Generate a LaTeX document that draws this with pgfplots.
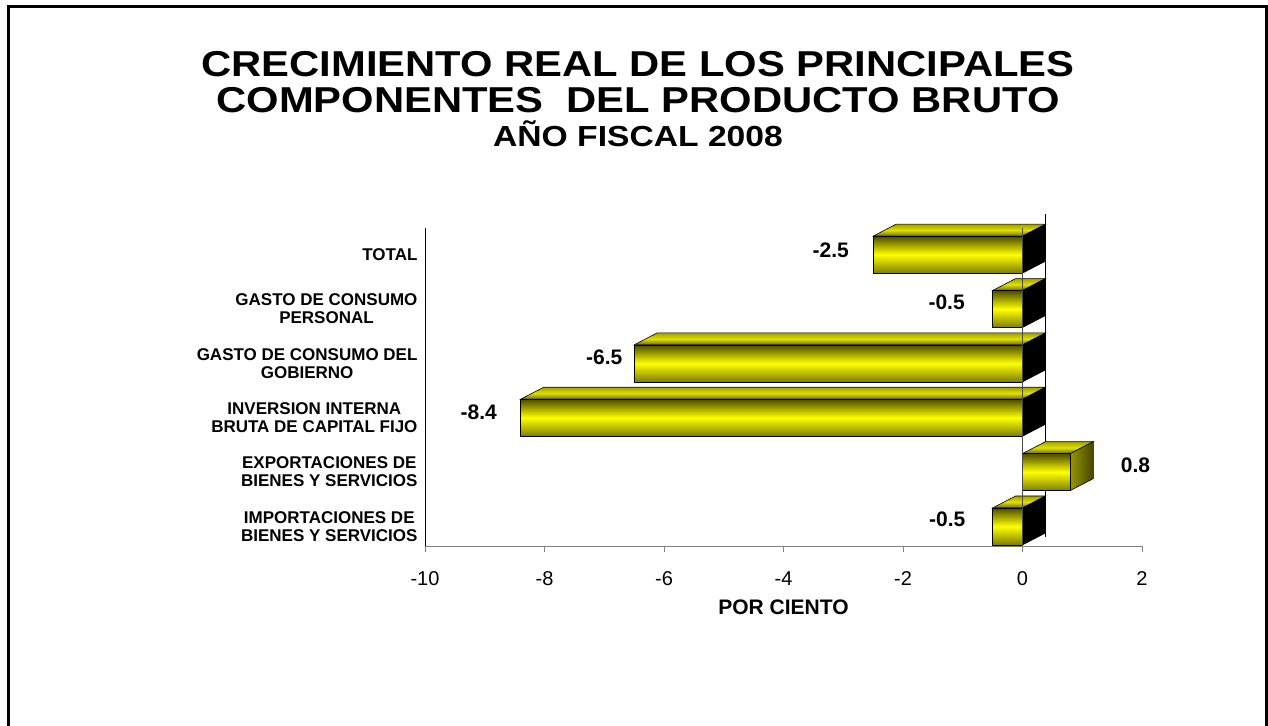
\documentclass[border=0pt]{standalone}
\usepackage{fontspec}
\setmainfont{Liberation Sans}
\newfontfamily\titlefont[FakeStretch=1.16]{Liberation Sans}
\usepackage{pgfplots}
\pgfplotsset{compat=1.18}
\definecolor{olivetop}{RGB}{75,75,0}
\definecolor{yel}{RGB}{255,255,0}
\definecolor{olivebot}{RGB}{125,125,0}
\definecolor{topback}{RGB}{160,160,0}
\definecolor{topmid}{RGB}{225,225,0}
\definecolor{topfront}{RGB}{105,105,0}
\definecolor{sidel}{RGB}{150,150,0}
\definecolor{sider}{RGB}{70,70,0}
\definecolor{axgray}{RGB}{128,128,128}
\pgfplotsset{
  front/.style={draw=black, line width=0.6pt, top color=olivetop, bottom color=olivebot, middle color=yel},
  topf/.style={draw=black, line width=0.6pt, top color=topback, bottom color=topfront, middle color=topmid},
  sidef/.style={draw=black, line width=0.6pt, fill=black},
}
\begin{document}
\begin{tikzpicture}
\useasboundingbox (0,0) rectangle (1268pt,-725pt);
\draw[line width=3pt] (8pt,-740pt) -- (8pt,-7pt) -- (1266.5pt,-7pt) -- (1266.5pt,-740pt);
\tikzset{ttl/.style={anchor=base, inner sep=0pt, text height=24pt, text depth=0pt}}
\node[ttl, font=\titlefont\bfseries\fontsize{36}{40}\selectfont] at (638pt,-77pt) {CRECIMIENTO REAL DE LOS PRINCIPALES};
\node[ttl, font=\titlefont\bfseries\fontsize{36}{40}\selectfont] at (638pt,-112pt) {COMPONENTES\ \ DEL PRODUCTO BRUTO};
\node[ttl, text height=20pt, font=\titlefont\bfseries\fontsize{29}{32}\selectfont] at (638pt,-146pt) {AÑO FISCAL 2008};
\begin{axis}[
  at={(425pt,-546pt)}, anchor=south west,
  scale only axis, width=717pt, height=318pt,
  clip=false,
  xmin=-10, xmax=2, ymin=-0.36, ymax=5.49,
  xtick={-10,-8,-6,-4,-2,0,2},
  xticklabels={-10,-8,-6,-4,-2,0,2},
  ytick={0,1,2,3,4,5},
  yticklabels={IMPORTACIONES DE\\BIENES Y SERVICIOS,EXPORTACIONES DE\\BIENES Y SERVICIOS,INVERSION INTERNA\\BRUTA DE CAPITAL FIJO,GASTO DE CONSUMO DEL\\GOBIERNO,GASTO DE CONSUMO\\PERSONAL,TOTAL},
  axis lines*=left,
  x axis line style={draw=axgray,line width=1pt,-},
  y axis line style={draw=black,line width=1pt,-},
  tick align=outside,
  major tick length=6pt,
  xtick style={draw=axgray,line width=1pt},
  ytick style={draw=none},
  xticklabel style={font=\fontsize{20}{24}\selectfont, yshift=-16pt},
  yticklabel style={font=\bfseries\fontsize{17}{18}\selectfont, align=center, xshift=2pt},
  xlabel={POR CIENTO},
  xlabel style={font=\bfseries\fontsize{21}{24}\selectfont, yshift=-7pt},
]
% back zero line
\addplot[black, line width=1pt] coordinates {(0.385,-0.19) (0.385,5.745)};
% top faces
\addplot[topf] coordinates {(-2.5,5.34) (-2.115,5.56) (0.385,5.56) (0,5.34)} -- cycle;
\addplot[topf] coordinates {(-0.5,4.34) (-0.115,4.56) (0.385,4.56) (0,4.34)} -- cycle;
\addplot[topf] coordinates {(-6.5,3.34) (-6.115,3.56) (0.385,3.56) (0,3.34)} -- cycle;
\addplot[topf] coordinates {(-8.4,2.34) (-8.015,2.56) (0.385,2.56) (0,2.34)} -- cycle;
\addplot[topf] coordinates {(0,1.34) (0.385,1.56) (1.185,1.56) (0.8,1.34)} -- cycle;
\addplot[topf] coordinates {(-0.5,0.34) (-0.115,0.56) (0.385,0.56) (0,0.34)} -- cycle;
% side faces
\addplot[sidef] coordinates {(0,4.66) (0,5.34) (0.385,5.56) (0.385,4.88)} -- cycle;
\addplot[sidef] coordinates {(0,3.66) (0,4.34) (0.385,4.56) (0.385,3.88)} -- cycle;
\addplot[sidef] coordinates {(0,2.66) (0,3.34) (0.385,3.56) (0.385,2.88)} -- cycle;
\addplot[sidef] coordinates {(0,1.66) (0,2.34) (0.385,2.56) (0.385,1.88)} -- cycle;
\addplot[sidef] coordinates {(0,-0.34) (0,0.34) (0.385,0.56) (0.385,-0.12)} -- cycle;
\addplot[draw=black, line width=0.6pt, left color=sidel, right color=sider] coordinates {(0.8,0.66) (0.8,1.34) (1.185,1.56) (1.185,0.88)} -- cycle;
% front faces (bars: value, category)
\addplot[front] coordinates {(-2.5,4.66) (-2.5,5.34) (0,5.34) (0,4.66)} -- cycle;
\addplot[front] coordinates {(-0.5,3.66) (-0.5,4.34) (0,4.34) (0,3.66)} -- cycle;
\addplot[front] coordinates {(-6.5,2.66) (-6.5,3.34) (0,3.34) (0,2.66)} -- cycle;
\addplot[front] coordinates {(-8.4,1.66) (-8.4,2.34) (0,2.34) (0,1.66)} -- cycle;
\addplot[front] coordinates {(0,0.66) (0,1.34) (0.8,1.34) (0.8,0.66)} -- cycle;
\addplot[front] coordinates {(-0.5,-0.34) (-0.5,0.34) (0,0.34) (0,-0.34)} -- cycle;
% front zero line
\addplot[black!70, line width=0.8pt] coordinates {(0,-0.36) (0,5.49)};
% value labels
\addplot[draw=none, mark=none, nodes near coords, point meta=explicit symbolic,
  every node near coord/.append style={anchor=center, font=\bfseries\fontsize{21}{24}\selectfont}]
  coordinates {(-3.21,5.08)[-2.5] (-1.27,4.13)[-0.5] (-7.0,3.12)[-6.5] (-9.1,2.10)[-8.4] (1.89,1.13)[0.8] (-1.26,0.14)[-0.5]};
\end{axis}
\end{tikzpicture}
\end{document}
